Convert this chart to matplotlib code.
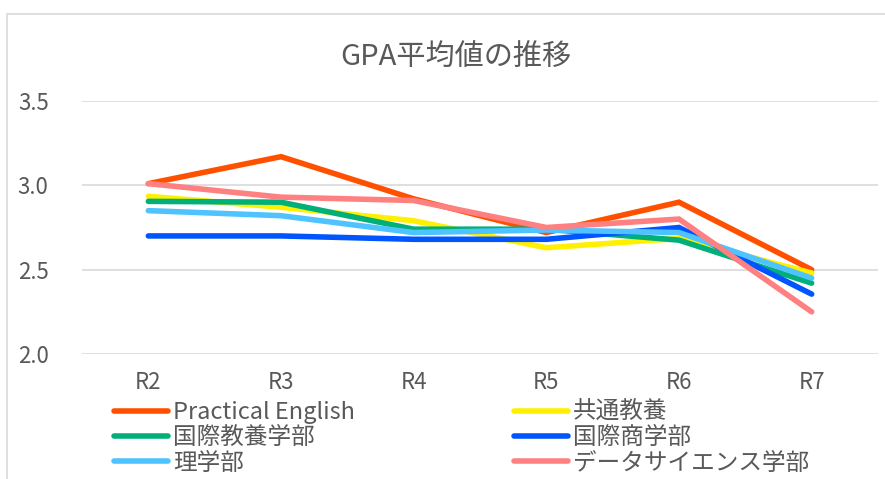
import matplotlib.pyplot as plt
from matplotlib.patches import Rectangle

plt.rcParams['font.family'] = ['Noto Sans CJK JP', 'DejaVu Sans']

years = ["R2", "R3", "R4", "R5", "R6", "R7"]
series_names = ["Practical English", "共通教養", "国際教養学部",
                "国際商学部", "理学部", "データサイエンス学部"]
practical_english = [3.01, 3.17, 2.92, 2.72, 2.90, 2.50]
kyotsu_kyoyo = [2.935, 2.87, 2.79, 2.63, 2.685, 2.48]
kokusai_kyoyo = [2.905, 2.90, 2.74, 2.74, 2.675, 2.42]
kokusai_sho = [2.70, 2.70, 2.68, 2.68, 2.75, 2.355]
rigaku = [2.85, 2.82, 2.72, 2.735, 2.72, 2.45]
data_science = [3.01, 2.93, 2.91, 2.75, 2.80, 2.25]
yticks = [2.0, 2.5, 3.0, 3.5]
ytick_labels = ["2.0", "2.5", "3.0", "3.5"]

colors = ["#FF5000", "#FFF000", "#00B078", "#0055FF", "#4FC3FF", "#FF8080"]
all_values = [practical_english, kyotsu_kyoyo, kokusai_kyoyo,
              kokusai_sho, rigaku, data_science]
text_color = "#595959"

fig = plt.figure(figsize=(8.85, 4.79), dpi=100)
ax = fig.add_axes([82 / 885, 1 - 354 / 479, 796 / 885, 253 / 479])

# chart frame (cut off at right and bottom)
fig.add_artist(Rectangle((7 / 885, -0.1), 1.1, 1.1 - 14 / 479,
                         transform=fig.transFigure, fill=False,
                         edgecolor="#D9D9D9", linewidth=1.2))

lines = []
for name, vals, c in zip(series_names, all_values, colors):
    ln, = ax.plot(range(len(years)), vals, color=c, lw=4.0,
                  solid_capstyle="round", solid_joinstyle="miter", label=name)
    lines.append(ln)

ax.set_xlim(-0.5, len(years) - 0.5)
ax.set_ylim(2.0, 3.5)
ax.set_xticks(range(len(years)))
ax.set_xticklabels(years)
ax.set_yticks(yticks)
ax.set_yticklabels(ytick_labels)
ax.tick_params(length=0, labelsize=16, labelcolor=text_color)
ax.tick_params(axis="y", pad=24)
ax.tick_params(axis="x", pad=12)
ax.grid(axis="y", color="#D9D9D9", lw=1.2)
ax.set_axisbelow(True)
for s in ax.spines.values():
    s.set_visible(False)

fig.text(456 / 885, 1 - 58 / 479, "GPA平均値の推移", ha="center", va="center",
         fontsize=21, color=text_color)

leg_kw = dict(frameon=False, fontsize=17, handlelength=2.3, handletextpad=0.2,
              labelspacing=0.1, borderpad=0, borderaxespad=0,
              labelcolor=text_color, loc="upper left")
leg1 = fig.legend(lines[0::2], series_names[0::2],
                  bbox_to_anchor=(114 / 885, 1 - 401 / 479), **leg_kw)
leg2 = fig.legend(lines[1::2], series_names[1::2],
                  bbox_to_anchor=(514 / 885, 1 - 401 / 479), **leg_kw)

fig.savefig("out.png", dpi=100)
